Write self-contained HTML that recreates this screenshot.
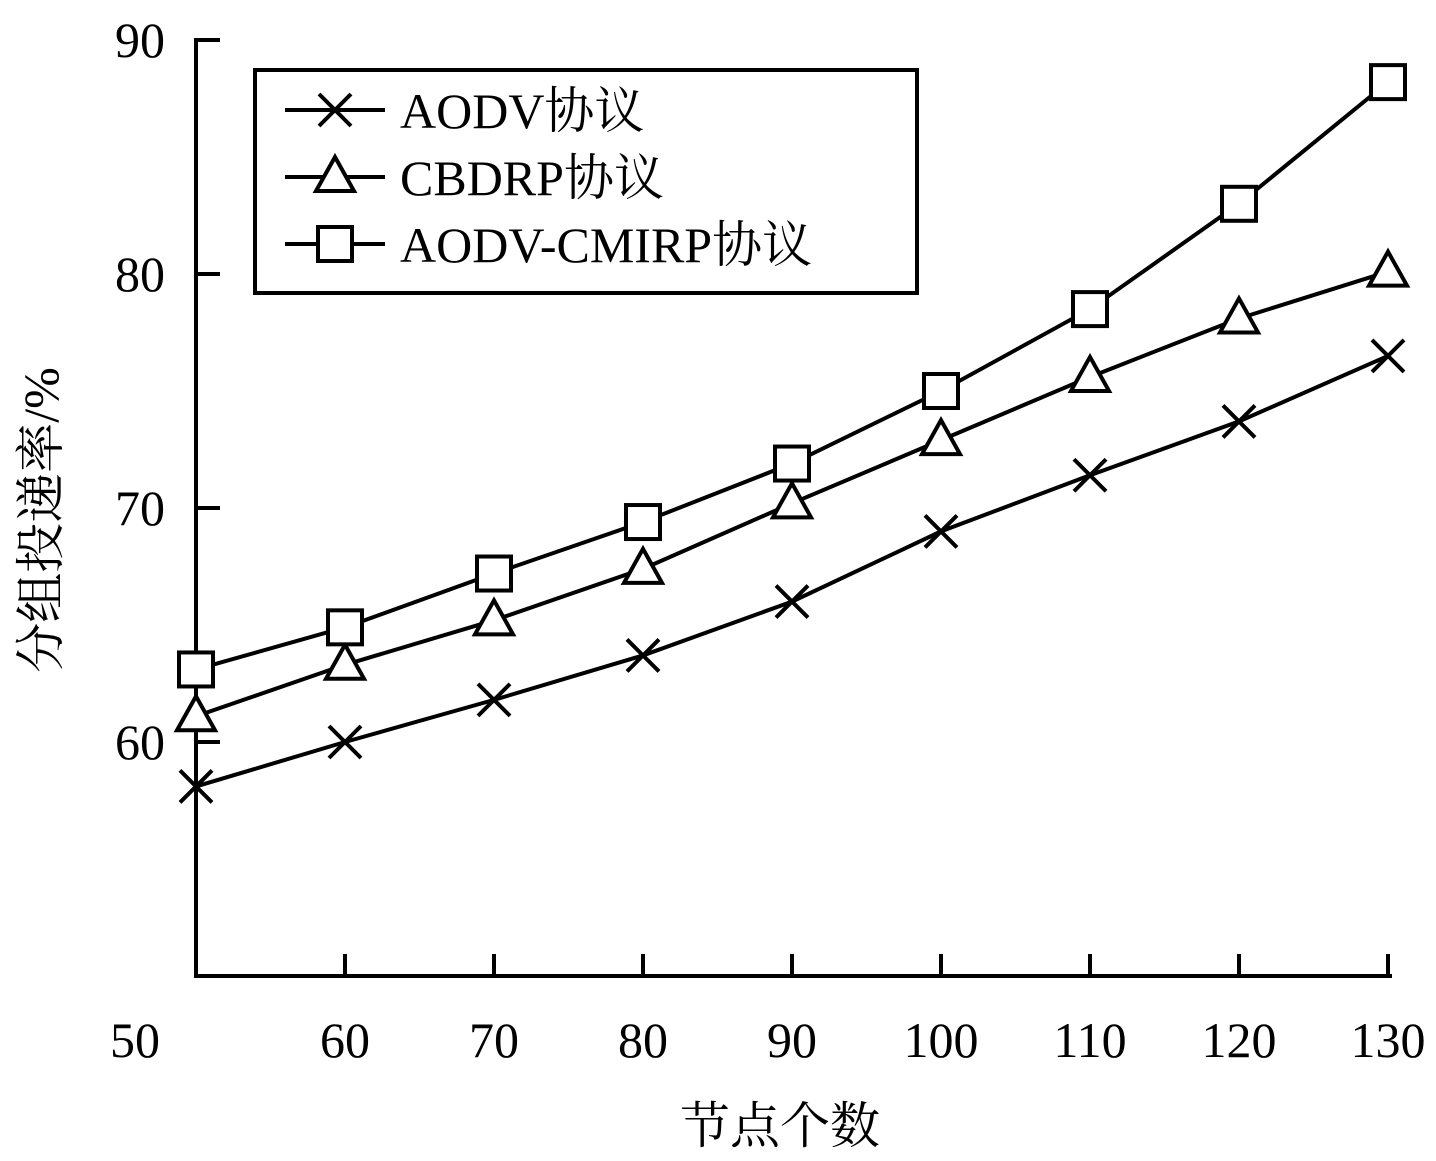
<!DOCTYPE html>
<html><head><meta charset="utf-8"><style>
html,body{margin:0;padding:0;background:#fff}
svg{display:block;font-family:"Liberation Serif","Noto Serif CJK SC",serif}
</style></head><body>
<svg id="chart" width="1436" height="1161" viewBox="0 0 1436 1161">
<g id="axes"></g>
<g id="series"></g>
<g id="legend">
<rect x="255" y="70" width="662" height="223" fill="#fff" stroke="#000" stroke-width="4"/>
</g>
<text x="780" y="1143" font-size="50" text-anchor="middle">节点个数</text>
<text transform="translate(58,520) rotate(-90)" font-size="50" text-anchor="middle">分组投递率/%</text>
</svg>
<script>
const categories=[50,60,70,80,90,100,110,120,130];
const aodv=[58.1,60.0,61.8,63.7,66.0,69.0,71.4,73.7,76.5];
const cbdrp=[61.1,63.3,65.2,67.4,70.2,72.9,75.6,78.1,80.1];
const cmirp=[63.1,64.9,67.2,69.4,71.9,75.0,78.5,83.0,88.2];
const xTickLabels=[50,60,70,80,90,100,110,120,130];
const yTickLabels=[60,70,80,90];
const seriesNames=["AODV协议","CBDRP协议","AODV-CMIRP协议"];
const NS="http://www.w3.org/2000/svg";
const x=v=>196+(v-50)*14.9;
const y=v=>976-(v-50)*23.4;
function mk(tag,attrs,parent){const e=document.createElementNS(NS,tag);for(const k in attrs)e.setAttribute(k,attrs[k]);parent.appendChild(e);return e;}
const axes=document.getElementById('axes');
let a=mk('path',{d:`M196,38 L196,976 L1392,976`,fill:'none',stroke:'#000','stroke-width':4},axes);


yTickLabels.forEach(v=>{
 const t=mk('line',{x1:196,x2:220,y1:y(v),y2:y(v),stroke:'#000','stroke-width':4},axes);
 
 
 const l=mk('text',{x:165,y:y(v)+17,'font-size':50,'text-anchor':'end'},axes);l.textContent=v;
 
 
});
xTickLabels.forEach(v=>{
 if(v>50){const t=mk('line',{x1:x(v),x2:x(v),y1:976,y2:954,stroke:'#000','stroke-width':4},axes);
 
 }
 const l=mk('text',{x:v===50?135:x(v),y:1057,'font-size':50,'text-anchor':'middle'},axes);l.textContent=v;
 
 
});
function marker(type,cx,cy,g){
 let e;
 if(type==='x') e=mk('path',{d:`M${cx-16},${cy-16}L${cx+16},${cy+16}M${cx-16},${cy+16}L${cx+16},${cy-16}`,stroke:'#000','stroke-width':4,fill:'none'},g);
 else if(type==='t') e=mk('path',{d:`M${cx},${cy-20}L${cx+19},${cy+14}L${cx-19},${cy+14}Z`,stroke:'#000','stroke-width':4,fill:'#fff'},g);
 else e=mk('rect',{x:cx-17,y:cy-17,width:34,height:34,stroke:'#000','stroke-width':4,fill:'#fff'},g);
 
 
}
const sg=document.getElementById('series');
const sets=[[aodv,'x','aodv'],[cbdrp,'t','cbdrp'],[cmirp,'s','aodv-cmirp']];
sets.forEach(([d,m,n])=>{
 const g=mk('g',{},sg);
 
 
 const p=mk('polyline',{points:d.map((v,i)=>x(categories[i])+','+y(v)).join(' '),fill:'none',stroke:'#000','stroke-width':4},g);
 
 
 d.forEach((v,i)=>marker(m,x(categories[i]),y(v),g));
});
const lg=document.getElementById('legend');
sets.forEach(([d,m,n],i)=>{
 const yy=110+i*67;
 const g=mk('g',{},lg);
 
 
 mk('line',{x1:285,x2:385,y1:yy,y2:yy,stroke:'#000','stroke-width':4},g);
 marker(m,335,yy,g);
 const t=mk('text',{x:400,y:yy+18,'font-size':50},g);t.textContent=seriesNames[i];
});
</script>
</body></html>
